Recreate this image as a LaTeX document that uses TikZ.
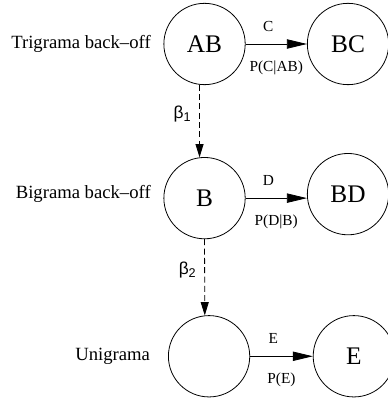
\documentclass[tikz,border=0pt]{standalone}
\usepackage{fontspec}
\setmainfont{Liberation Serif}
\newfontfamily\greekfont{Liberation Sans}
\usetikzlibrary{arrows.meta, positioning}

\begin{document}
\begin{tikzpicture}[
    >={Triangle[length=15pt, width=7pt]},
    state/.style={draw, circle, minimum size=61pt, inner sep=0pt,
                  line width=0.6pt, font=\fontsize{19}{19}\selectfont},
    level/.style={font=\fontsize{14}{14}\selectfont},
    sym/.style={font=\fontsize{11.5}{11.5}\selectfont},
    every edge/.style={draw, ->, line width=0.6pt},
    backoff/.style={draw, dashed, dash pattern=on 4.5pt off 2.5pt,
                    line width=0.6pt,
                    -{Triangle[length=10pt, width=6pt]}},
    node distance=46pt
  ]
  \useasboundingbox (-153.4pt,-265.5pt) rectangle (136.9pt,33pt);

  % trigram level
  \node[state] (ab) {AB};
  \node[state, right=46pt of ab] (bc) {BC};
  \node[level, left=6pt of ab] (tri) {Trigrama back--off};

  % bigram level
  \node[state, below=54pt of ab] (b) {B};
  \node[state, right=46pt of b, yshift=3pt] (bd) {BD};
  \node[level, left=6pt of b, yshift=3pt] (bi) {Bigrama back--off};

  % unigram level
  \node[state, below=57pt of b, xshift=3.4pt] (u) {};
  \node[state, right=47pt of u] (e) {E};
  \node[level, left=10pt of u] (uni) {Unigrama};

  \draw[->] (ab) edge
    node[sym, above=6pt, pos=0.37] {C}
    node[sym, below=9pt] {P(C|AB)} (bc);
  \draw[->] (b) edge
    node[sym, above=6pt, pos=0.37] {D}
    node[sym, below=9pt] {P(D|B)} (b -| bd.west);
  \draw[->] (u) edge
    node[sym, above=6pt, pos=0.37] {E}
    node[sym, below=9pt] {P(E)} (e);

  % back-off transitions
  \draw[backoff] (ab.263) --
    node[left=3pt, pos=0.4, font=\greekfont\fontsize{13}{13}\selectfont]
      {β\raisebox{-2.5pt}{\fontsize{9.5}{9.5}\selectfont 1}} (b.97);
  \draw[backoff] (b.south) --
    node[left=3pt, pos=0.4, font=\greekfont\fontsize{13}{13}\selectfont]
      {β\raisebox{-2.5pt}{\fontsize{9.5}{9.5}\selectfont 2}} (u.96);
\end{tikzpicture}
\end{document}
